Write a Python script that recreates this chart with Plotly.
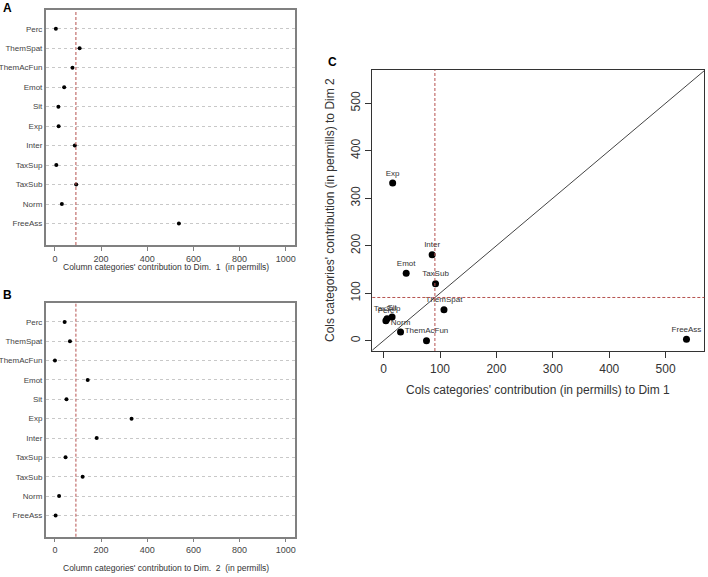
import plotly.graph_objects as go

categories = ["Perc", "ThemSpat", "ThemAcFun", "Emot", "Sit", "Exp", "Inter", "TaxSup", "TaxSub", "Norm", "FreeAss"]
dim1 = [4, 107, 76, 40, 15, 16, 86, 6, 92, 30, 537]
dim2 = [42, 65, 0, 142, 50, 332, 181, 46, 120, 18, 3]
threshold = 1000 / 11
xticks_ab = [0, 200, 400, 600, 800, 1000]
ticks_c = [0, 100, 200, 300, 400, 500]

W, H = 708, 577
def xd(a, b):
    return [a / W, b / W]
def yd(top, bottom):
    return [1 - bottom / H, 1 - top / H]

n = len(categories)
ypos = list(range(n, 0, -1))  # Perc at top

FONT = "Liberation Sans, Arial, sans-serif"
fig = go.Figure()

# Panel A
fig.add_trace(go.Scatter(x=dim1, y=ypos, mode="markers", xaxis="x", yaxis="y",
                         marker=dict(color="black", size=4), hoverinfo="text", text=categories))
# Panel B
fig.add_trace(go.Scatter(x=dim2, y=ypos, mode="markers", xaxis="x2", yaxis="y2",
                         marker=dict(color="black", size=4), hoverinfo="text", text=categories))
# Panel C diagonal
fig.add_trace(go.Scatter(x=[-40, 600], y=[-40, 600], mode="lines", xaxis="x3", yaxis="y3",
                         line=dict(color="#444", width=1), hoverinfo="skip"))
fig.add_trace(go.Scatter(x=dim1, y=dim2, mode="markers+text", xaxis="x3", yaxis="y3",
                         text=categories, textposition="top center",
                         textfont=dict(size=8, color="#333", family=FONT),
                         marker=dict(color="black", size=7)))

box = dict(showline=True, mirror=True, linecolor="#808080", linewidth=1.5, zeroline=False, automargin=False)
xa_ab = dict(range=[-40, 1040], tickvals=xticks_ab, ticks="outside", ticklen=4, tickcolor="#808080",
             showgrid=False, tickfont=dict(size=9, color="#444", family=FONT), **box)
ya_ab = dict(range=[-0.1, 11.96], tickvals=ypos, ticktext=categories, ticks="",
             showgrid=True, gridcolor="#c8c8c8", griddash="3px,3px", gridwidth=1,
             tickfont=dict(size=8, color="#444", family=FONT), **box)

fig.update_layout(
    width=W, height=H, margin=dict(l=0, r=0, t=0, b=0, autoexpand=False),
    paper_bgcolor="white", plot_bgcolor="white", showlegend=False,
    xaxis=dict(domain=xd(45.7, 295), anchor="y", **xa_ab),
    yaxis=dict(domain=yd(10, 245), anchor="x", **ya_ab),
    xaxis2=dict(domain=xd(45.7, 295), anchor="y2", **xa_ab),
    yaxis2=dict(domain=yd(303.3, 536.7), anchor="x2", **ya_ab),
    xaxis3=dict(domain=xd(372.3, 704.3), anchor="y3", range=[-20.1, 568.6], tickvals=ticks_c,
                ticks="outside", ticklen=6, tickcolor="#333", showgrid=False, automargin=False,
                tickfont=dict(size=12, color="#333", family=FONT),
                showline=True, mirror=True, linecolor="#333", linewidth=1.2, zeroline=False),
    yaxis3=dict(domain=yd(70, 351), anchor="x3", range=[-21.8, 570], tickvals=ticks_c,
                ticks="outside", ticklen=6, tickcolor="#333", showgrid=False, tickangle=-90,
                automargin=False,
                tickfont=dict(size=12, color="#333", family=FONT),
                showline=True, mirror=True, linecolor="#333", linewidth=1.2, zeroline=False),
)

red = dict(color="#b5524f", width=1, dash="3px,2px")
fig.add_shape(type="line", xref="x", yref="y domain", x0=threshold, x1=threshold, y0=0, y1=1, line=red)
fig.add_shape(type="line", xref="x2", yref="y2 domain", x0=threshold, x1=threshold, y0=0, y1=1, line=red)
fig.add_shape(type="line", xref="x3", yref="y3 domain", x0=threshold, x1=threshold, y0=0, y1=1, line=red)
fig.add_shape(type="line", xref="x3 domain", yref="y3", x0=0, x1=1, y0=threshold, y1=threshold, line=red)

def ann(text, x, y, size, bold=False, angle=0, color="#333"):
    fig.add_annotation(text=f"<b>{text}</b>" if bold else text, x=x / W, y=1 - y / H,
                       xref="paper", yref="paper", showarrow=False, textangle=angle,
                       font=dict(size=size, color=color, family=FONT), xanchor="center", yanchor="middle")

ann("A", 7, 8, 12, bold=True, color="black")
ann("B", 7, 295, 12, bold=True, color="black")
ann("C", 332, 62, 12, bold=True, color="black")
ann("Column categories' contribution to Dim.  1  (in permills)", 166, 267, 8.5)
ann("Column categories' contribution to Dim.  2  (in permills)", 166, 568, 8.5)
ann("Cols categories' contribution (in permills) to Dim 1", 538, 390, 12)
ann("Cols categories' contribution (in permills) to Dim 2", 330, 210, 12, angle=-90)

fig.write_html("out.html", config={"displayModeBar": False},
               post_script="document.body.style.margin='0';")
